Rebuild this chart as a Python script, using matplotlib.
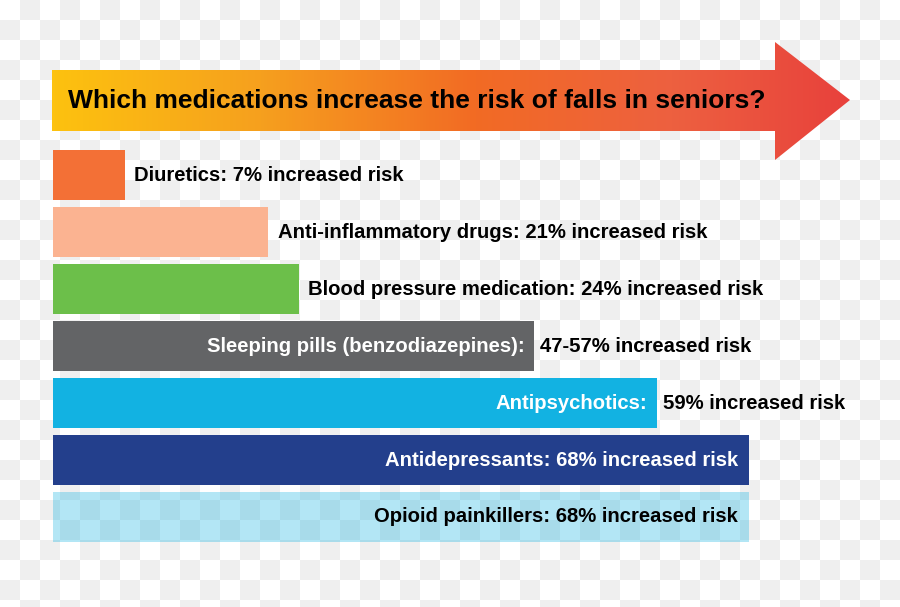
import numpy as np
import matplotlib
matplotlib.use("Agg")
import matplotlib.pyplot as plt
from matplotlib.patches import Polygon
from matplotlib.colors import LinearSegmentedColormap

plt.rcParams['font.family'] = ['Liberation Sans', 'DejaVu Sans']

# data
title = "Which medications increase the risk of falls in seniors?"
medications = ["Diuretics", "Anti-inflammatory drugs", "Blood pressure medication",
               "Sleeping pills (benzodiazepines)", "Antipsychotics", "Antidepressants",
               "Opioid painkillers"]
bar_values = [7, 21, 24, 47, 59, 68, 68]
risk_labels = ["7%", "21%", "24%", "47-57%", "59%", "68%", "68%"]
placement = ["out", "out", "out", "split", "split", "in", "in"]
bar_colors = ["#F37036", "#FBB391", "#6CBF4A", "#636466", "#12B2E2", "#233F8C", "#13B3E2"]
bar_alpha = [1, 1, 1, 1, 1, 1, 0.32]
inside_text_color = ["black", "black", "black", "white", "white", "white", "black"]

W, H = 900, 607
fig = plt.figure(figsize=(W / 100, H / 100), dpi=100)

# background: transparency checkerboard
bg = fig.add_axes([0, 0, 1, 1])
bg.axis('off')
nx, ny = W // 20 + 1, H // 20 + 1
checker = (np.add.outer(np.arange(ny), np.arange(nx)) % 2).astype(float)
bg.imshow(checker, cmap=LinearSegmentedColormap.from_list('chk', ['#FFFFFF', '#EFEFEF']),
          extent=(0, nx * 20, ny * 20, 0), interpolation='nearest', zorder=0)
bg.set_xlim(0, W)
bg.set_ylim(H, 0)

# gradient arrow with the title
arrow_pts = [(52, 70), (775, 70), (775, 42), (850, 100), (775, 160), (775, 131), (52, 131)]
arrow = Polygon(arrow_pts, closed=True, facecolor='none', edgecolor='none')
bg.add_patch(arrow)
grad_cmap = LinearSegmentedColormap.from_list(
    'arrow', [(0, '#FDC20F'), (0.26, '#F6A01E'), (0.53, '#F26B24'),
              (0.78, '#ED6040'), (1, '#E8413C')])
grad = bg.imshow(np.linspace(0, 1, 256)[None, :], cmap=grad_cmap, aspect='auto',
                 extent=(52, 850, 160, 42), zorder=1)
grad.set_clip_path(arrow)
bg.set_xlim(0, W)
bg.set_ylim(H, 0)
bg.text(68, 101, title, fontsize=19, fontweight='bold', color='black',
        ha='left', va='center', zorder=2)

# bars
ax = fig.add_axes([53 / W, (H - 545.5) / H, 847 / W, 399 / H])
ax.set_xlim(0, 847 / 10.24)
ax.set_ylim(len(medications) - 0.5, -0.5)
ax.axis('off')
ax.patch.set_visible(False)

y = np.arange(len(medications))
for i in range(len(medications)):
    ax.barh(y[i], bar_values[i], height=0.89, left=0, color=bar_colors[i],
            alpha=bar_alpha[i], edgecolor='none')

fs = 14.6
for i, med in enumerate(medications):
    full = f"{med}: {risk_labels[i]} increased risk"
    if placement[i] == "out":
        ax.annotate(full, (bar_values[i], y[i]), xytext=(7, 0), textcoords='offset points',
                    ha='left', va='center', fontsize=fs, fontweight='bold', color='black')
    elif placement[i] == "in":
        ax.annotate(full, (bar_values[i], y[i]), xytext=(-8, 0), textcoords='offset points',
                    ha='right', va='center', fontsize=fs, fontweight='bold',
                    color=inside_text_color[i])
    else:
        ax.annotate(f"{med}:", (bar_values[i], y[i]), xytext=(-7, 0), textcoords='offset points',
                    ha='right', va='center', fontsize=fs, fontweight='bold',
                    color=inside_text_color[i])
        ax.annotate(f"{risk_labels[i]} increased risk", (bar_values[i], y[i]), xytext=(4, 0),
                    textcoords='offset points', ha='left', va='center', fontsize=fs,
                    fontweight='bold', color='black')

fig.savefig("out.png", dpi=100)
